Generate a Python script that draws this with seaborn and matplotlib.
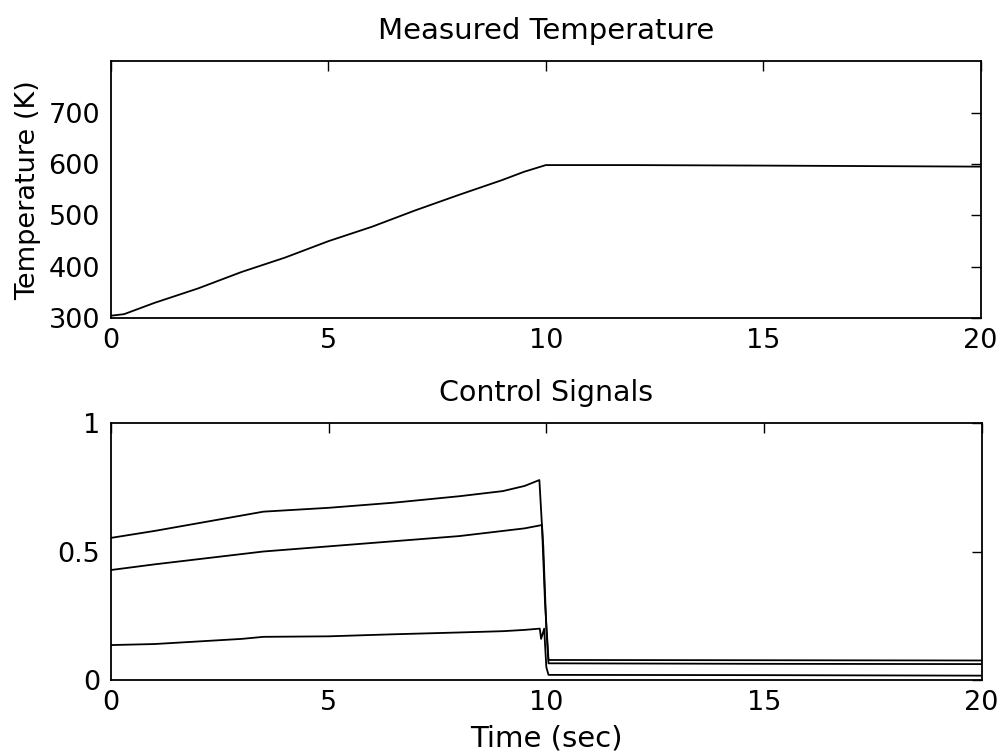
import matplotlib
matplotlib.use("Agg")
import matplotlib.pyplot as plt
import seaborn as sns
import pandas as pd
import numpy as np

# ---- data ----
temp_t = [0, 0.3, 1, 2, 3, 4, 5, 6, 7, 8, 9, 9.5, 10, 12, 15, 20]
temp_K = [305, 308, 330, 358, 390, 418, 450, 478, 510, 540, 569, 585, 598, 598, 597, 595]

sig1_t = [0, 1, 2, 3, 3.5, 5, 6.5, 8, 9, 9.5, 9.84, 9.9, 9.97, 10.05, 15, 20]
sig1_u = [0.553, 0.58, 0.61, 0.64, 0.655, 0.67, 0.69, 0.715, 0.735, 0.755, 0.778, 0.60, 0.30, 0.078, 0.077, 0.076]

sig2_t = [0, 1, 2, 3, 3.5, 5, 6.5, 8, 9, 9.5, 9.9, 9.93, 10.0, 10.05, 15, 20]
sig2_u = [0.428, 0.45, 0.47, 0.49, 0.50, 0.52, 0.54, 0.56, 0.58, 0.59, 0.603, 0.52, 0.20, 0.065, 0.063, 0.062]

sig3_t = [0, 1, 2, 3, 3.5, 5, 6.5, 8, 9, 9.5, 9.85, 9.88, 9.95, 10.0, 10.05, 15, 20]
sig3_u = [0.136, 0.14, 0.15, 0.16, 0.168, 0.17, 0.178, 0.185, 0.19, 0.195, 0.20, 0.16, 0.20, 0.05, 0.02, 0.019, 0.017]

x_ticks = [0, 5, 10, 15, 20]
temp_ticks = [300, 400, 500, 600, 700]
sig_ticks = [0, 0.5, 1]
sig_tick_labels = ["0", "0.5", "1"]

sns.set_style("white")
plt.rcParams['font.family'] = ['DejaVu Sans']
plt.rcParams['text.color'] = 'black'
plt.rcParams['axes.labelcolor'] = 'black'
plt.rcParams['xtick.direction'] = 'in'
plt.rcParams['ytick.direction'] = 'in'

fig = plt.figure(figsize=(10.03, 7.56), dpi=100)
ax1 = fig.add_axes([0.1107, 0.579, 0.867, 0.340])
ax2 = fig.add_axes([0.1107, 0.1005, 0.868, 0.340])

df_temp = pd.DataFrame({"t": temp_t, "T": temp_K})
sns.lineplot(data=df_temp, x="t", y="T", ax=ax1, color="black", linewidth=1.3, estimator=None)

for tt, uu in [(sig1_t, sig1_u), (sig2_t, sig2_u), (sig3_t, sig3_u)]:
    d = pd.DataFrame({"t": tt, "u": uu})
    sns.lineplot(data=d, x="t", y="u", ax=ax2, color="black", linewidth=1.3,
                 estimator=None, sort=False)

ax1.set_xlim(0, 20)
ax1.set_ylim(300, 800)
ax1.set_xticks(x_ticks)
ax1.set_yticks(temp_ticks)
ax1.set_title("Measured Temperature", fontsize=21, pad=16, color="black")
ax1.set_xlabel("")
ax1.set_ylabel("Temperature (K)", fontsize=19.5, labelpad=5)

ax2.set_xlim(0, 20)
ax2.set_ylim(0, 1)
ax2.set_xticks(x_ticks)
ax2.set_yticks(sig_ticks)
ax2.set_yticklabels(sig_tick_labels)
ax2.set_title("Control Signals", fontsize=20.5, pad=16, color="black")
ax2.set_xlabel("Time (sec)", fontsize=21, labelpad=6)
ax2.set_ylabel("")

for ax in (ax1, ax2):
    for s in ax.spines.values():
        s.set_visible(True)
        s.set_color("black")
        s.set_linewidth(1.3)
    ax.tick_params(axis="both", which="both", direction="in", length=7, width=1,
                   top=True, right=True, labelsize=19.5, colors="black")
    ax.tick_params(axis="y", pad=8)
    ax.tick_params(axis="x", pad=7)
    ax.grid(False)

fig.savefig("out.png", dpi=100, facecolor="white")
